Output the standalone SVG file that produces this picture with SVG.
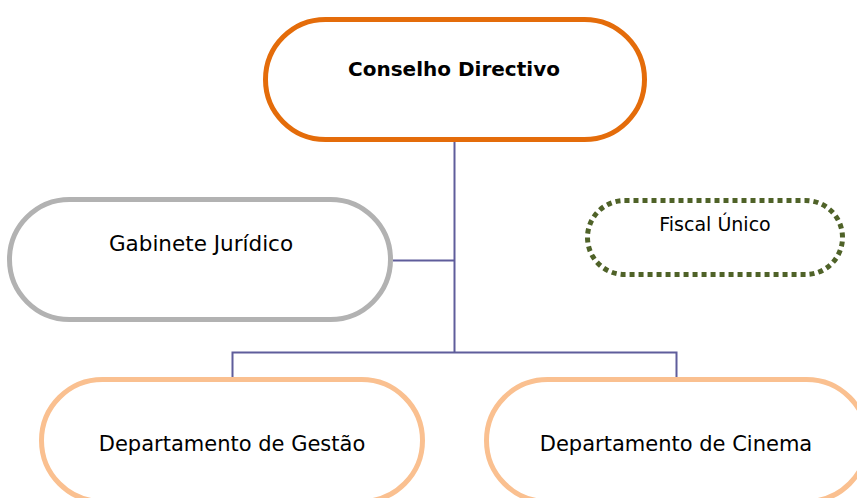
<svg xmlns="http://www.w3.org/2000/svg" width="857" height="498" viewBox="0 0 857 498">
<style>
.node{fill:#ffffff;stroke-width:5}
.t{font-family:"DejaVu Sans",Verdana,sans-serif;fill:#000000;text-anchor:middle}
.conn{fill:none;stroke:#5f5d9b;stroke-width:2}
</style>
<rect width="857" height="498" fill="#ffffff"/>
<g id="connectors">
<path class="conn" d="M454.5 141V352"/>
<path class="conn" d="M393 260.5H454.5"/>
<path class="conn" d="M232.5 378V352.5H676.5V378"/>
</g>
<g id="conselho-directivo">
<rect class="node" x="265.5" y="19.5" width="379" height="120" rx="60" stroke="#e46c0a"/>
<text class="t" x="454" y="76" font-size="20" font-weight="bold">Conselho Directivo</text>
</g>
<g id="gabinete-juridico">
<rect class="node" x="9.5" y="199.5" width="381" height="120" rx="60" stroke="#b2b2b2"/>
<text class="t" x="201" y="251" font-size="21.5">Gabinete Jurídico</text>
</g>
<g id="fiscal-unico">
<rect class="node" x="587.5" y="200.5" width="255" height="74" rx="37" stroke="#4f6228" stroke-dasharray="5 4"/>
<text class="t" x="715" y="231" font-size="19">Fiscal Único</text>
</g>
<g id="departamento-gestao">
<rect class="node" x="41.5" y="379.5" width="381" height="122" rx="61" stroke="#fac090"/>
<text class="t" x="232" y="451" font-size="21">Departamento de Gestão</text>
</g>
<g id="departamento-cinema">
<rect class="node" x="486.5" y="379.5" width="381" height="122" rx="61" stroke="#fac090"/>
<text class="t" x="676" y="451" font-size="21">Departamento de Cinema</text>
</g>
</svg>
